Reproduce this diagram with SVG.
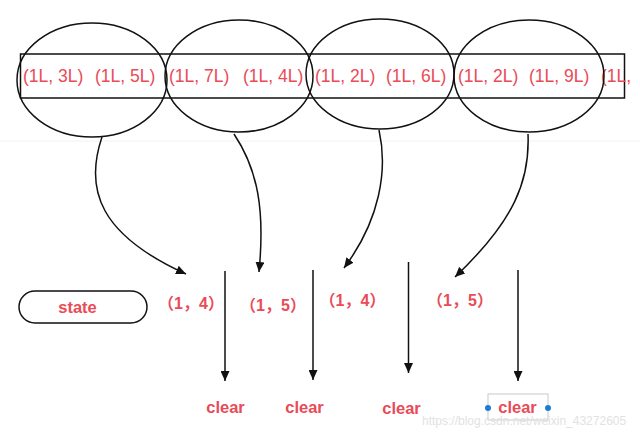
<svg xmlns="http://www.w3.org/2000/svg" width="640" height="448" viewBox="0 0 640 448">
<style>
.sh{fill:none;stroke:#111;stroke-width:1.5}
.tl{font-family:"Liberation Sans",Arial,sans-serif;font-size:17.5px;fill:#e94b57}
.tp{font-family:"Liberation Sans","Noto Sans CJK SC",sans-serif;font-size:16px;font-weight:bold;fill:#e94b57;text-anchor:middle}
.tb{font-family:"Liberation Sans",Arial,sans-serif;font-size:16.5px;font-weight:bold;fill:#e94b57;text-anchor:middle}
.cn{fill:none;stroke:#111;stroke-width:1.5;marker-end:url(#ah)}
</style>
<defs>
<marker id="ah" markerUnits="userSpaceOnUse" markerWidth="11" markerHeight="9" refX="10" refY="4.5" orient="auto">
<path d="M0,0 L10,4.5 L0,9 z" fill="#111"/>
</marker>
</defs>
<rect width="640" height="448" fill="#fff"/>
<line x1="0" y1="141" x2="640" y2="141" stroke="#f2f2f2" stroke-width="1"/>
<g id="array">
<rect class="sh" x="20.5" y="54" width="604" height="44"/>
<text class="tl" x="23" y="82">(1L, 3L)</text>
<text class="tl" x="95" y="82">(1L, 5L)</text>
<text class="tl" x="169" y="82">(1L, 7L)</text>
<text class="tl" x="243" y="82">(1L, 4L)</text>
<text class="tl" x="315" y="82">(1L, 2L)</text>
<text class="tl" x="386" y="82">(1L, 6L)</text>
<text class="tl" x="458" y="82">(1L, 2L)</text>
<text class="tl" x="529" y="82">(1L, 9L)</text>
<text class="tl" x="601" y="82">(1L,</text>
</g>
<g id="group1"><ellipse class="sh" cx="92" cy="80" rx="75" ry="57"/></g>
<g id="group2"><ellipse class="sh" cx="239" cy="76" rx="74" ry="56"/></g>
<g id="group3"><ellipse class="sh" cx="380" cy="74" rx="74" ry="55"/></g>
<g id="group4"><ellipse class="sh" cx="529" cy="76" rx="75" ry="56"/></g>
<g id="state">
<rect class="sh" x="19" y="291" width="128" height="32" rx="16"/>
<text class="tb" x="77.5" y="313">state</text>
</g>
<g id="values">
<text class="tp" x="191" y="309">（1，4）</text>
<text class="tp" x="273" y="311">（1，5）</text>
<text class="tp" x="352.5" y="306">（1，4）</text>
<text class="tp" x="460" y="306">（1，5）</text>
</g>
<g id="clears">
<text class="tb" x="225.5" y="413">clear</text>
<text class="tb" x="304.5" y="413">clear</text>
<text class="tb" x="401.5" y="414">clear</text>
<text class="tb" x="517.5" y="413">clear</text>
<rect x="488" y="394" width="60" height="26" fill="none" stroke="#bbb" stroke-width="0.8"/>
<circle cx="488" cy="408" r="3" fill="#1a7fd4"/>
<circle cx="548" cy="408" r="3" fill="#1a7fd4"/>
</g>
<g id="connectors">
<path class="cn" d="M102,137 C84,190 100,235 186,274"/>
<path class="cn" d="M234,134 C258,170 265,210 259,272"/>
<path class="cn" d="M379,130 C388,170 380,220 344,268"/>
<path class="cn" d="M528,134 C530,180 515,220 455,277"/>
<line class="cn" x1="225" y1="271" x2="225" y2="381"/>
<line class="cn" x1="313" y1="270" x2="313" y2="380"/>
<line class="cn" x1="408.5" y1="262" x2="408.5" y2="373"/>
<line class="cn" x1="518" y1="270" x2="518" y2="381"/>
</g>
<text x="422" y="425" font-family="Liberation Sans,Arial,sans-serif" font-size="12" fill="#e2e2e2">https://blog.csdn.net/weixin_43272605</text>
</svg>
